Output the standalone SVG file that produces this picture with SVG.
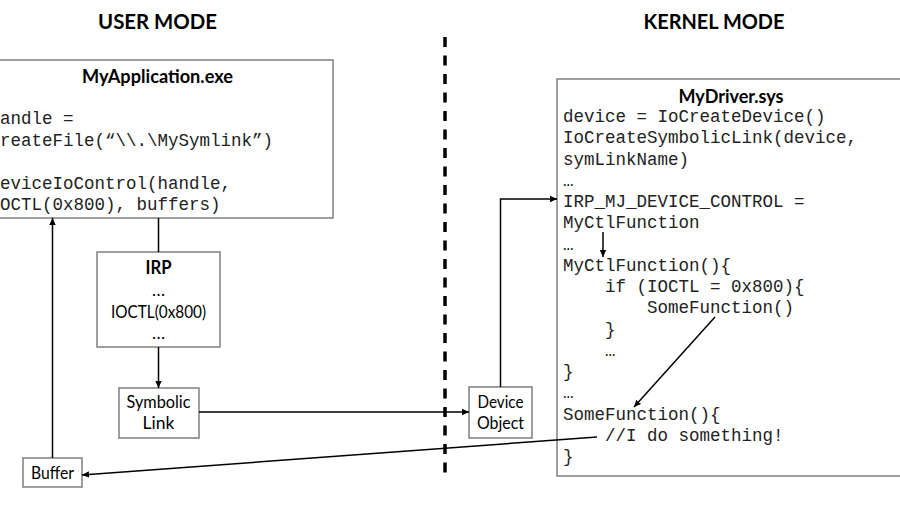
<svg xmlns="http://www.w3.org/2000/svg" width="900" height="506" viewBox="0 0 900 506">
<defs>
<marker id="ah" markerUnits="userSpaceOnUse" markerWidth="8" markerHeight="8" refX="7" refY="4" orient="auto">
<path d="M0,0.8 L7,4 L0,7.2 Z" fill="#000"/>
</marker>
<style>
.box{fill:#fff;stroke:#7f7f7f;stroke-width:1.5}
.hdr{font-family:Lato,"Liberation Sans",sans-serif;font-weight:bold;font-size:20.5px;fill:#000;text-anchor:middle}
.ttl{font-family:Lato,"Liberation Sans",sans-serif;font-weight:bold;font-size:18px;fill:#000;text-anchor:middle}
.lbl{font-family:Lato,"Liberation Sans",sans-serif;font-size:17.5px;fill:#000;text-anchor:middle}
.code{font-family:"Liberation Mono","Courier New",monospace;font-size:17.5px;fill:#222;white-space:pre}
.con{fill:none;stroke:#000;stroke-width:1.5}
.arr{marker-end:url(#ah)}
</style>
</defs>
<rect width="900" height="506" fill="#fff"/>
<text class="hdr" x="157.5" y="29" textLength="119" lengthAdjust="spacingAndGlyphs">USER MODE</text>
<text class="hdr" x="714" y="29" textLength="141" lengthAdjust="spacingAndGlyphs">KERNEL MODE</text>
<line x1="445" y1="37" x2="445" y2="478" stroke="#000" stroke-width="3.5" stroke-dasharray="10 8.5"/>

<g id="app">
<rect class="box" x="-10" y="60" width="343" height="158"/>
<text class="ttl" x="157.5" y="83" textLength="151" lengthAdjust="spacingAndGlyphs">MyApplication.exe</text>
<text class="code" x="-10.5" y="124">handle =</text>
<text class="code" x="-10.5" y="146">CreateFile(“\\.\MySymlink”)</text>
<text class="code" x="-10.5" y="189">DeviceIoControl(handle,</text>
<text class="code" x="-10.5" y="210">IOCTL(0x800), buffers)</text>
</g>

<g id="irp">
<rect class="box" x="97" y="252" width="123" height="95"/>
<text class="ttl" x="158.5" y="274" textLength="26" lengthAdjust="spacingAndGlyphs">IRP</text>
<text class="lbl" x="158.5" y="296">…</text>
<text class="lbl" x="158.5" y="318" textLength="95" lengthAdjust="spacingAndGlyphs">IOCTL(0x800)</text>
<text class="lbl" x="158.5" y="339">…</text>
</g>

<g id="symlink">
<rect class="box" x="119" y="388" width="80" height="50"/>
<text class="lbl" x="158.5" y="408" textLength="64" lengthAdjust="spacingAndGlyphs">Symbolic</text>
<text class="lbl" x="158.5" y="429">Link</text>
</g>

<g id="buffer">
<rect class="box" x="23" y="458" width="59" height="29"/>
<text class="lbl" x="52.5" y="479" textLength="43" lengthAdjust="spacingAndGlyphs">Buffer</text>
</g>

<g id="devobj">
<rect class="box" x="469" y="387" width="63" height="51"/>
<text class="lbl" x="500.5" y="408" textLength="46" lengthAdjust="spacingAndGlyphs">Device</text>
<text class="lbl" x="500.5" y="429" textLength="47" lengthAdjust="spacingAndGlyphs">Object</text>
</g>

<g id="driver">
<rect class="box" x="557" y="79" width="360" height="397"/>
<text class="ttl" x="731" y="103" textLength="105" lengthAdjust="spacingAndGlyphs">MyDriver.sys</text>
<text class="code" x="563" y="122">device = IoCreateDevice()</text>
<text class="code" x="563" y="143.25">IoCreateSymbolicLink(device,</text>
<text class="code" x="563" y="164.5">symLinkName)</text>
<text class="code" x="563" y="185.75">…</text>
<text class="code" x="563" y="207">IRP_MJ_DEVICE_CONTROL =</text>
<text class="code" x="563" y="228.25">MyCtlFunction</text>
<text class="code" x="563" y="249.5">…</text>
<text class="code" x="563" y="270.75">MyCtlFunction(){</text>
<text class="code" x="563" y="292">    if (IOCTL = 0x800){</text>
<text class="code" x="563" y="313.25">        SomeFunction()</text>
<text class="code" x="563" y="334.5">    }</text>
<text class="code" x="563" y="355.75">    …</text>
<text class="code" x="563" y="377">}</text>
<text class="code" x="563" y="398.25">…</text>
<text class="code" x="563" y="419.5">SomeFunction(){</text>
<text class="code" x="563" y="440.75">    //I do something!</text>
<text class="code" x="563" y="462">}</text>
</g>

<g id="connectors">
<line class="con" x1="158.5" y1="218" x2="158.5" y2="252"/>
<line class="con arr" x1="158.5" y1="347" x2="158.5" y2="388"/>
<line class="con arr" x1="199" y1="412" x2="469" y2="412"/>
<polyline class="con arr" points="500.5,387 500.5,199 557,199"/>
<line class="con arr" x1="603" y1="232" x2="603" y2="257"/>
<line class="con arr" x1="715" y1="317" x2="634" y2="407"/>
<line class="con arr" x1="597" y1="437" x2="82" y2="475"/>
<line class="con arr" x1="52.5" y1="458" x2="52.5" y2="218"/>
</g>
</svg>
